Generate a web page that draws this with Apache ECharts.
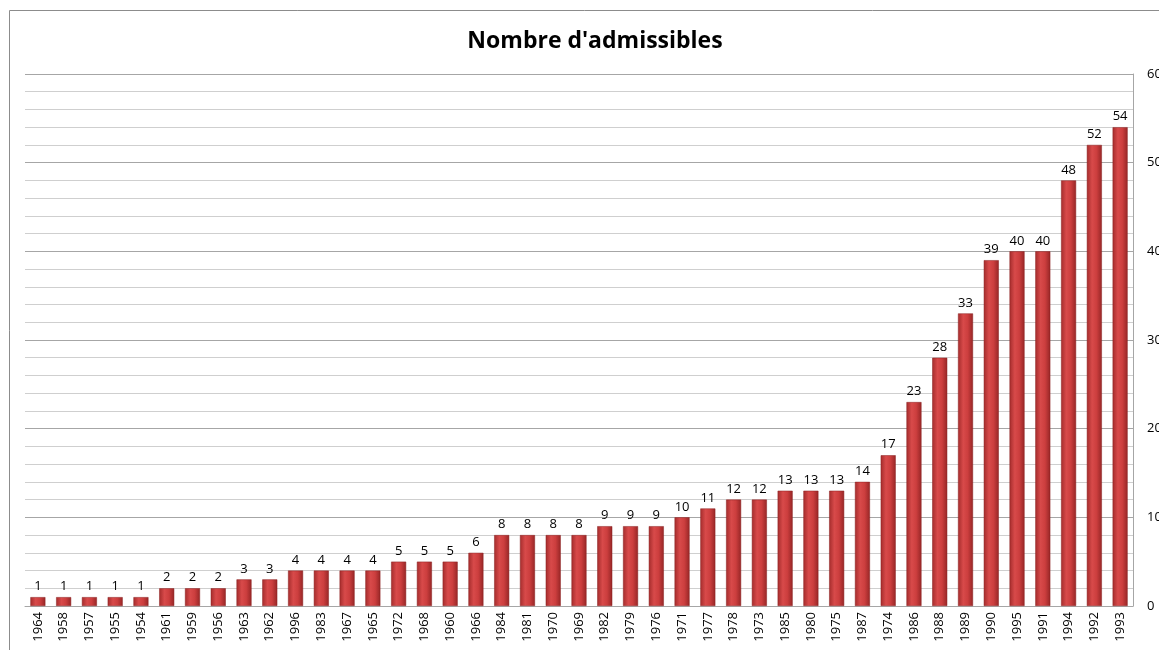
<!DOCTYPE html>
<html>
<head>
<meta charset="utf-8">
<script src="https://cdn.jsdelivr.net/npm/echarts@6/dist/echarts.min.js"></script>
<style>
  html, body { margin: 0; padding: 0; background: #fff; }
  #main { width: 1159px; height: 650px; }
</style>
</head>
<body>
<div id="main"></div>
<script>
    var years = ['1964','1958','1957','1955','1954','1961','1959','1956','1963','1962',
        '1996','1983','1967','1965','1972','1968','1960','1966','1984','1981',
        '1970','1969','1982','1979','1976','1971','1977','1978','1973','1985',
        '1980','1975','1987','1974','1986','1988','1989','1990','1995','1991',
        '1994','1992','1993'];
    var admissibles = [1,1,1,1,1,2,2,2,3,3,
        4,4,4,4,5,5,5,6,8,8,
        8,8,9,9,9,10,11,12,12,13,
        13,13,14,17,23,28,33,39,40,40,
        48,52,54];

    var chart = echarts.init(document.getElementById('main'));
    // barre rouge avec reflet au milieu
    var barColor = new echarts.graphic.LinearGradient(0, 0, 1, 0, [
        {offset: 0, color: '#a42c2c'},
        {offset: 0.35, color: '#d84a4a'},
        {offset: 0.65, color: '#cc3e3e'},
        {offset: 1, color: '#962626'}
    ]);
    chart.setOption({
        animation: false,
        textStyle: {fontFamily: 'Open Sans'},
        title: {
            text: "Nombre d'admissibles",
            left: 590,
            top: 25,
            textAlign: 'center',
            textStyle: {fontSize: 23, fontWeight: 'bold', color: '#000'}
        },
        graphic: [{
            type: 'rect',
            shape: {x: 9.5, y: 10.5, width: 1300, height: 800},
            style: {fill: 'none', stroke: '#8c8c8c', lineWidth: 1},
            silent: true
        }],
        grid: {left: 25, right: 26, top: 74, bottom: 44, outerBoundsMode: 'none'},
        xAxis: {
            type: 'category',
            data: years,
            axisLine: {show: true, lineStyle: {color: '#a6a6a6'}},
            axisTick: {show: false},
            axisLabel: {rotate: 90, fontSize: 13, color: '#000', margin: 6, interval: 0}
        },
        yAxis: {
            type: 'value',
            position: 'right',
            min: 0,
            max: 60,
            interval: 10,
            axisLine: {show: true, lineStyle: {color: '#a6a6a6'}},
            axisTick: {show: false},
            axisLabel: {fontSize: 13, color: '#000', margin: 14},
            splitLine: {show: true, lineStyle: {color: '#a6a6a6'}},
            minorTick: {show: false, splitNumber: 5},
            minorSplitLine: {show: true, lineStyle: {color: '#cfcfcf'}}
        },
        series: [{
            type: 'bar',
            data: admissibles,
            barWidth: 15,
            itemStyle: {color: barColor, borderColor: '#8a2020', borderWidth: 0.5},
            label: {show: true, position: 'top', fontSize: 13, color: '#000', distance: 4}
        }]
    });
</script>
</body>
</html>
